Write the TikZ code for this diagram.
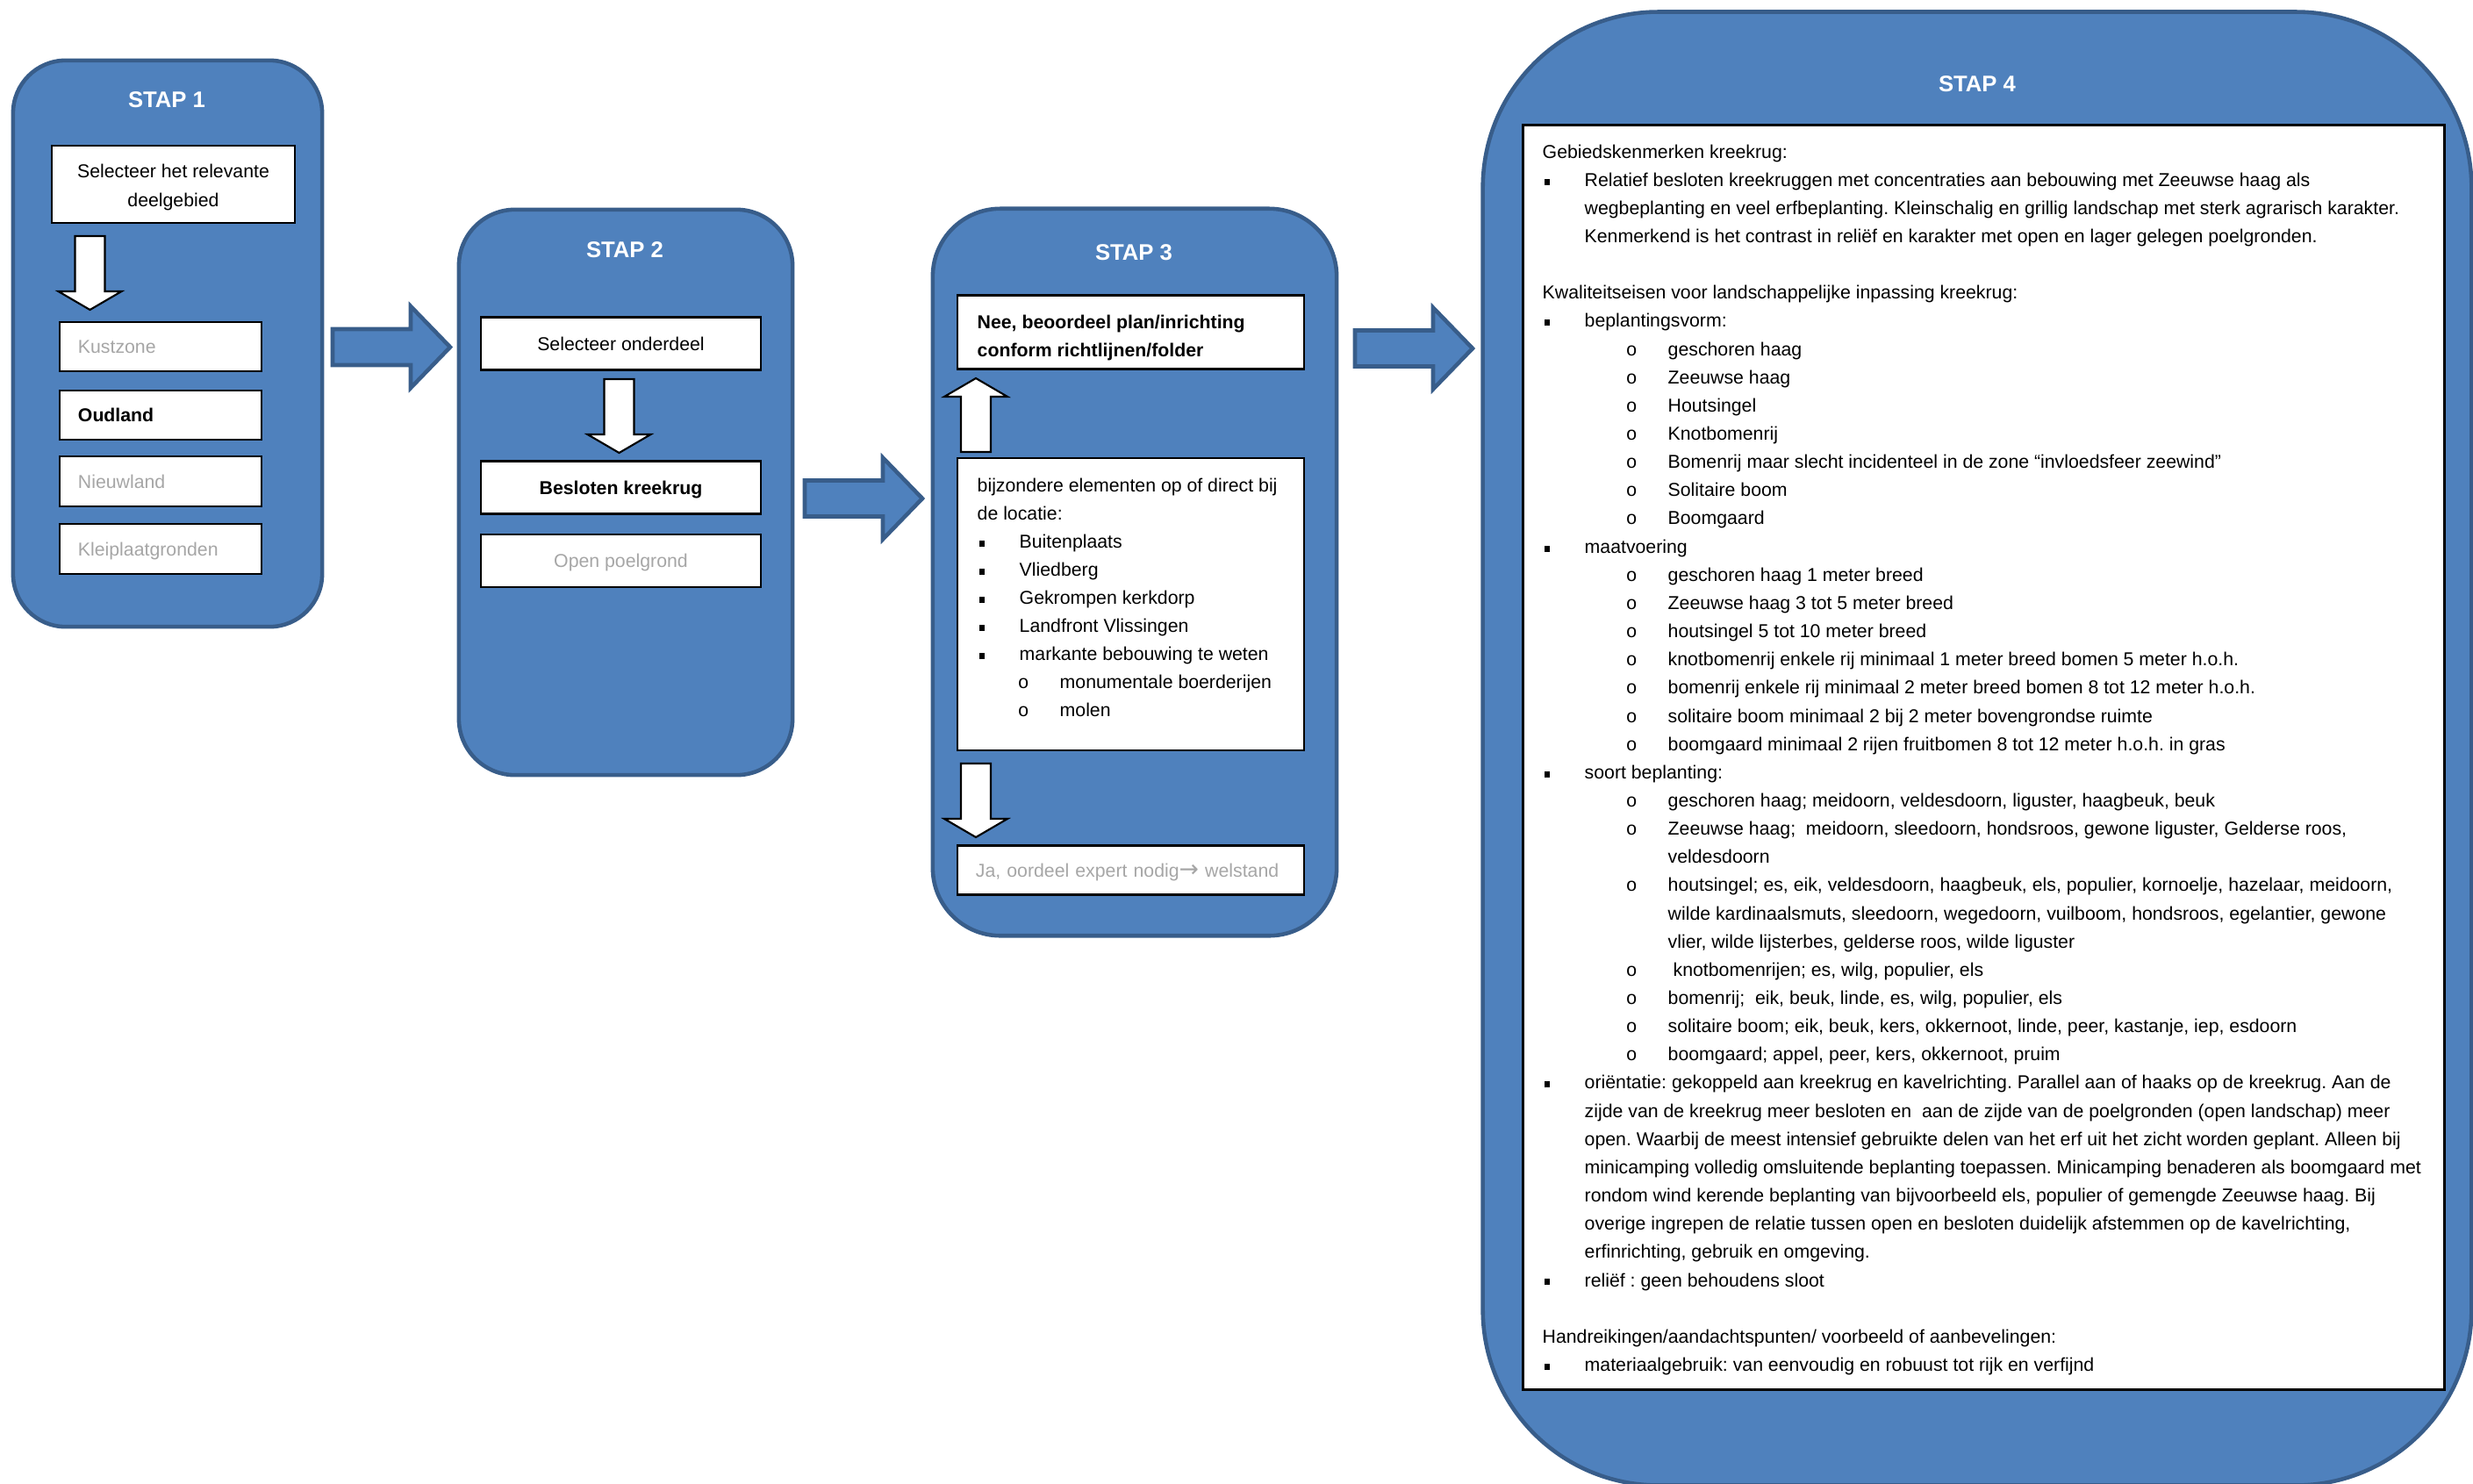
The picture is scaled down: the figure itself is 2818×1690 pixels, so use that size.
\documentclass[tikz,border=0pt]{standalone}
\usepackage{fontspec}
\setmainfont{Liberation Sans}
\newfontfamily\arrowfont{DejaVu Sans}
\newfontfamily\monofont{Liberation Mono}
\definecolor{stapfill}{RGB}{79,129,189}
\definecolor{stapline}{RGB}{56,93,138}
\definecolor{greytxt}{RGB}{166,166,166}
\newcommand\fsN{\fontsize{6.05pt}{9.13pt}\selectfont}
\newcommand\fsT{\fontsize{7.3pt}{9pt}\selectfont\bfseries}
\newcommand\sqbul{\llap{\raisebox{0.45pt}{\rule{0.6mm}{0.7mm}}\hspace{4.0mm}}}
\newcommand\cbul{\llap{{\monofont o}\hspace{3.5mm}}}
\newcommand\TL[4]{\node[ln] (#1) at (#2,#3) {#4};}
\newcommand\SL[3]{\node[ln] (q#1) at (#2,{180+32.15*#1}) {#3};}
\newcommand\ML[3]{\node[ln] (m#1) at (#2,{560+32.1*#1}) {#3};}
\frenchspacing
\begin{document}
\frenchspacing
\begin{tikzpicture}[x=0.01cm,y=-0.01cm,
 stap/.style={draw=stapline,fill=stapfill,line width=1.3pt,inner sep=0},
 title/.style={font=\fsT,text=white,inner sep=0},
 wbox/.style={draw=black,fill=white,line width=0.6pt,inner sep=0,font=\fsN},
 lbox/.style={wbox,minimum height=0.565cm,text height=4.33pt,text depth=0pt,inner xsep=0.21cm,align=left},
 cbox/.style={wbox,minimum width=3.19cm,minimum height=0.6cm,text height=4.33pt,text depth=0pt},
 ln/.style={anchor=base west,inner sep=0,font=\fsN},
 cln/.style={anchor=base,inner sep=0,font=\fsN},
 warrow/.style={draw=black,fill=white,line width=0.6pt},
 barrow/.style={draw=stapline,fill=stapfill,line width=1.3pt},
 wdown/.pic={\path[warrow] (-17,0) -- (17,0) -- (17,63) -- (36,63) -- (0,84) -- (-36,63) -- (-17,63) -- cycle;},
 bright/.pic={\path[barrow] (0,-20.5) -- (89,-20.5) -- (89,-46.5) -- (134,0) -- (89,46.5) -- (89,20.5) -- (0,20.5) -- cycle;}
]
\useasboundingbox (0,0) rectangle (2818,1690);
\clip (0,0) rectangle (2818,1690);
\fill[white] (0,0) rectangle (2818,1690);

% step containers
\node[stap,rounded corners=0.6cm,minimum width=3.52cm,minimum height=6.45cm] (s1) at (191,391.5) {};
\node[stap,rounded corners=0.64cm,minimum width=3.80cm,minimum height=6.44cm] (s2) at (713,561) {};
\node[stap,rounded corners=0.77cm,minimum width=4.60cm,minimum height=8.28cm] (s3) at (1293,652) {};
\node[stap,rounded corners=2cm,minimum width=11.26cm,minimum height=16.78cm] (s4) at (2253,853) {};

\node[title] (t1) at (190,114) {STAP 1};
\node[title] (t2) at (712,285) {STAP 2};
\node[title] (t3) at (1292,288) {STAP 3};
\node[title] (t4) at (2253,96) {STAP 4};

% big arrows between steps
\coordinate (a1) at (379,395.5);
\coordinate (a2) at (917,568);
\coordinate (a3) at (1544,397);
\pic at (a1) {bright};
\pic at (a2) {bright};
\pic at (a3) {bright};

% STAP 1
\node[wbox,minimum width=2.77cm,minimum height=0.88cm] (b11) at (197.5,210) {};
\node[cln] (b11a) at (197.5,202.5) {Selecteer het relevante};
\node[cln] (b11b) at (197.5,235) {deelgebied};
\pic at (102.5,269) {wdown};
\node[lbox,minimum width=2.30cm,text width=1.88cm,text=greytxt] (k1) at (183,395) {Kustzone};
\node[lbox,minimum width=2.30cm,text width=1.88cm,font=\fsN\bfseries] (k2) at (183,473) {Oudland};
\node[lbox,minimum width=2.30cm,text width=1.88cm,text=greytxt] (k3) at (183,548.5) {Nieuwland};
\node[lbox,minimum width=2.30cm,text width=1.88cm,text=greytxt] (k4) at (183,625.5) {Kleiplaatgronden};

% STAP 2
\node[cbox] (b21) at (707.5,391.5) {Selecteer onderdeel};
\pic at (705.5,432) {wdown};
\node[cbox,font=\fsN\bfseries] (b22) at (707.5,555.5) {Besloten kreekrug};
\node[cbox,text=greytxt] (b23) at (707.5,639) {Open poelgrond};

% STAP 3
\node[wbox,minimum width=3.95cm,minimum height=0.84cm] (b31) at (1288.5,378.5) {};
\TL{n1}{1113}{374}{\bfseries Nee, beoordeel plan/inrichting}
\TL{n2}{1113}{406}{\bfseries conform richtlijnen/folder}
\pic[rotate=180] at (1112,515) {wdown};
\node[wbox,minimum width=3.95cm,minimum height=3.33cm] (b32) at (1288.5,688.5) {};
\ML{0}{1113}{bijzondere elementen op of direct bij}
\ML{1}{1113}{de locatie:}
\ML{2}{1161}{\sqbul Buitenplaats}
\ML{3}{1161}{\sqbul Vliedberg}
\ML{4}{1161}{\sqbul Gekrompen kerkdorp}
\ML{5}{1161}{\sqbul Landfront Vlissingen}
\ML{6}{1161}{\sqbul markante bebouwing te weten}
\ML{7}{1207}{\cbul monumentale boerderijen}
\ML{8}{1207}{\cbul molen}
\pic at (1112,870) {wdown};
\node[lbox,minimum width=3.95cm,minimum height=0.56cm,text width=3.53cm,text=greytxt] (b33) at (1288.5,991.5) {Ja, oordeel expert nodig{\arrowfont\fontsize{7.6pt}{9pt}\selectfont →} welstand};

% STAP 4
\node[wbox,line width=0.8pt,minimum width=10.49cm,minimum height=14.40cm] (b41) at (2260.5,863) {};
\SL{0}{1757}{Gebiedskenmerken kreekrug:}
\SL{1}{1805}{\sqbul Relatief besloten kreekruggen met concentraties aan bebouwing met Zeeuwse haag als}
\SL{2}{1805}{wegbeplanting en veel erfbeplanting. Kleinschalig en grillig landschap met sterk agrarisch karakter.}
\SL{3}{1805}{Kenmerkend is het contrast in reliëf en karakter met open en lager gelegen poelgronden.}
\SL{5}{1757}{Kwaliteitseisen voor landschappelijke inpassing kreekrug:}
\SL{6}{1805}{\sqbul beplantingsvorm:}
\SL{7}{1900}{\cbul geschoren haag}
\SL{8}{1900}{\cbul Zeeuwse haag}
\SL{9}{1900}{\cbul Houtsingel}
\SL{10}{1900}{\cbul Knotbomenrij}
\SL{11}{1900}{\cbul Bomenrij maar slecht incidenteel in de zone “invloedsfeer zeewind”}
\SL{12}{1900}{\cbul Solitaire boom}
\SL{13}{1900}{\cbul Boomgaard}
\SL{14}{1805}{\sqbul maatvoering}
\SL{15}{1900}{\cbul geschoren haag 1 meter breed}
\SL{16}{1900}{\cbul Zeeuwse haag 3 tot 5 meter breed}
\SL{17}{1900}{\cbul houtsingel 5 tot 10 meter breed}
\SL{18}{1900}{\cbul knotbomenrij enkele rij minimaal 1 meter breed bomen 5 meter h.o.h.}
\SL{19}{1900}{\cbul bomenrij enkele rij minimaal 2 meter breed bomen 8 tot 12 meter h.o.h.}
\SL{20}{1900}{\cbul solitaire boom minimaal 2 bij 2 meter bovengrondse ruimte}
\SL{21}{1900}{\cbul boomgaard minimaal 2 rijen fruitbomen 8 tot 12 meter h.o.h. in gras}
\SL{22}{1805}{\sqbul soort beplanting:}
\SL{23}{1900}{\cbul geschoren haag; meidoorn, veldesdoorn, liguster, haagbeuk, beuk}
\SL{24}{1900}{\cbul Zeeuwse haag;\ \ meidoorn, sleedoorn, hondsroos, gewone liguster, Gelderse roos,}
\SL{25}{1900}{veldesdoorn}
\SL{26}{1900}{\cbul houtsingel; es, eik, veldesdoorn, haagbeuk, els, populier, kornoelje, hazelaar, meidoorn,}
\SL{27}{1900}{wilde kardinaalsmuts, sleedoorn, wegedoorn, vuilboom, hondsroos, egelantier, gewone}
\SL{28}{1900}{vlier, wilde lijsterbes, gelderse roos, wilde liguster}
\SL{29}{1900}{\cbul\ knotbomenrijen; es, wilg, populier, els}
\SL{30}{1900}{\cbul bomenrij;\ \ eik, beuk, linde, es, wilg, populier, els}
\SL{31}{1900}{\cbul solitaire boom; eik, beuk, kers, okkernoot, linde, peer, kastanje, iep, esdoorn}
\SL{32}{1900}{\cbul boomgaard; appel, peer, kers, okkernoot, pruim}
\SL{33}{1805}{\sqbul oriëntatie: gekoppeld aan kreekrug en kavelrichting. Parallel aan of haaks op de kreekrug. Aan de}
\SL{34}{1805}{zijde van de kreekrug meer besloten en\ \ aan de zijde van de poelgronden (open landschap) meer}
\SL{35}{1805}{open. Waarbij de meest intensief gebruikte delen van het erf uit het zicht worden geplant. Alleen bij}
\SL{36}{1805}{minicamping volledig omsluitende beplanting toepassen. Minicamping benaderen als boomgaard met}
\SL{37}{1805}{rondom wind kerende beplanting van bijvoorbeeld els, populier of gemengde Zeeuwse haag. Bij}
\SL{38}{1805}{overige ingrepen de relatie tussen open en besloten duidelijk afstemmen op de kavelrichting,}
\SL{39}{1805}{erfinrichting, gebruik en omgeving.}
\SL{40}{1805}{\sqbul reliëf : geen behoudens sloot}
\SL{42}{1757}{Handreikingen/aandachtspunten/ voorbeeld of aanbevelingen:}
\SL{43}{1805}{\sqbul materiaalgebruik: van eenvoudig en robuust tot rijk en verfijnd}
\end{tikzpicture}
\end{document}
